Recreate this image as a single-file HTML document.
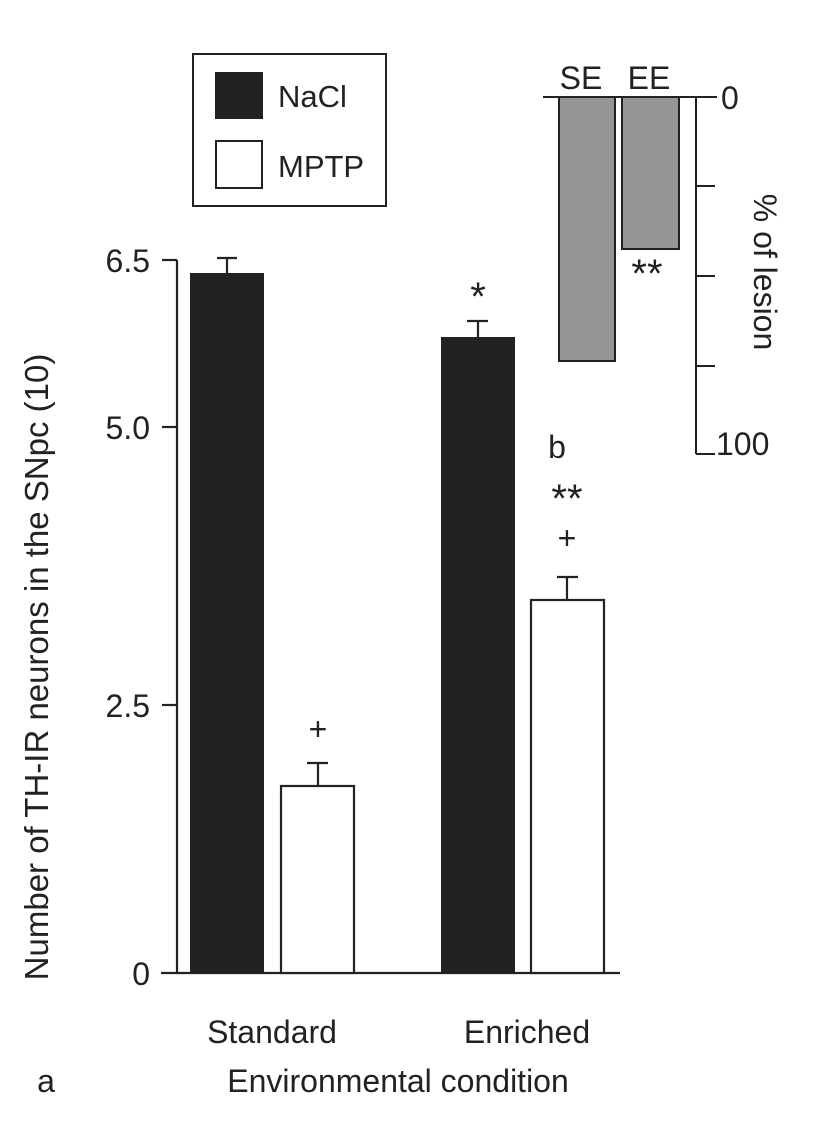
<!DOCTYPE html>
<html><head><meta charset="utf-8"><style>
html,body{margin:0;padding:0;background:#fff;}
svg text{font-family:"Liberation Sans",sans-serif;fill:#222;}
</style></head><body>
<svg width="826" height="1116" viewBox="0 0 826 1116" xmlns="http://www.w3.org/2000/svg">
<g stroke="#222" stroke-width="2.2" fill="none">
<line x1="177" y1="260" x2="177" y2="973"/>
<line x1="162" y1="260" x2="177" y2="260"/>
<line x1="162" y1="427" x2="177" y2="427"/>
<line x1="162" y1="705" x2="177" y2="705"/>
<line x1="161" y1="973" x2="620" y2="973"/>
</g>
<rect x="190" y="273" width="74" height="700" fill="#222"/>
<rect x="281" y="786" width="73" height="187" fill="#fff" stroke="#222" stroke-width="2.2"/>
<rect x="441" y="337" width="74" height="636" fill="#222"/>
<rect x="531" y="600" width="73" height="373" fill="#fff" stroke="#222" stroke-width="2.2"/>
<g stroke="#222" stroke-width="2.2">
<line x1="227" y1="258" x2="227" y2="273"/><line x1="217" y1="258" x2="237" y2="258"/>
<line x1="318" y1="763" x2="318" y2="786"/><line x1="307" y1="763" x2="328" y2="763"/>
<line x1="478" y1="321" x2="478" y2="337"/><line x1="467" y1="321" x2="488" y2="321"/>
<line x1="567" y1="577" x2="567" y2="600"/><line x1="557" y1="577" x2="578" y2="577"/>
</g>
<g font-size="32">
<text x="150" y="272" text-anchor="end">6.5</text>
<text x="150" y="439" text-anchor="end">5.0</text>
<text x="150" y="717" text-anchor="end">2.5</text>
<text x="150" y="985" text-anchor="end">0</text>
<text x="272" y="1043" text-anchor="middle">Standard</text>
<text x="527" y="1043" text-anchor="middle">Enriched</text>
<text x="398" y="1092" text-anchor="middle">Environmental condition</text>
<text x="46" y="1092" text-anchor="middle">a</text>
<text x="318" y="740" text-anchor="middle">+</text>
<text x="478" y="310" text-anchor="middle" font-size="40">*</text>
<text x="557" y="458" text-anchor="middle">b</text>
<text x="567" y="512" text-anchor="middle" font-size="40">**</text>
<text x="567" y="549" text-anchor="middle">+</text>
<text transform="translate(48,667) rotate(-90)" text-anchor="middle" font-size="33">Number of TH-IR neurons in the SNpc  (10)</text>
</g>
<rect x="193" y="54" width="193" height="152" fill="#fff" stroke="#222" stroke-width="2"/>
<rect x="215" y="72" width="48" height="47" fill="#222"/>
<rect x="216" y="141" width="46" height="47" fill="#fff" stroke="#222" stroke-width="2"/>
<text x="278" y="107" font-size="31">NaCl</text>
<text x="278" y="177" font-size="31">MPTP</text>
<rect x="559" y="97" width="56" height="264" fill="#959595" stroke="#222" stroke-width="2"/>
<rect x="622" y="97" width="57" height="152" fill="#959595" stroke="#222" stroke-width="2"/>
<g stroke="#222" stroke-width="2">
<line x1="543" y1="97" x2="717" y2="97"/>
<line x1="696" y1="97" x2="696" y2="454"/>
<line x1="696" y1="186" x2="715" y2="186"/>
<line x1="696" y1="276" x2="715" y2="276"/>
<line x1="696" y1="366" x2="715" y2="366"/>
<line x1="696" y1="454" x2="715" y2="454"/>
</g>
<g font-size="32">
<text x="581" y="89" text-anchor="middle">SE</text>
<text x="649" y="89" text-anchor="middle">EE</text>
<text x="721" y="109">0</text>
<text x="716" y="455">100</text>
<text x="647" y="287" text-anchor="middle" font-size="40">**</text>
<text transform="translate(754,272) rotate(90)" text-anchor="middle">% of lesion</text>
</g>
</svg>
</body></html>
